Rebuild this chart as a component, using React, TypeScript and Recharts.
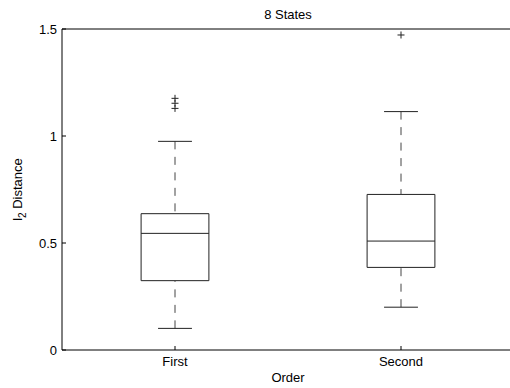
import React from 'react';
import { ScatterChart, Scatter, XAxis, YAxis, ReferenceArea, ReferenceLine, Label } from 'recharts';

// boxplot summary per group
const categories = ['First', 'Second'];
const positions = [1, 2];
const lowerWhisker = [0.101, 0.2];
const q1 = [0.324, 0.386];
const median = [0.545, 0.509];
const q3 = [0.637, 0.727];
const upperWhisker = [0.975, 1.114];

const outlierGroup = [1, 1, 1, 2];
const outlierValues = [1.129, 1.153, 1.176, 1.472];

const yTicks = [0, 0.5, 1, 1.5];

const outliers = outlierGroup.map((g, i) => ({ x: g, y: outlierValues[i] }));

const FONT = '"Liberation Sans", Arial, Helvetica, sans-serif';
const INK = '#222';
const BOX_HALF = 0.15;
const CAP_HALF = 0.075;

const PlusShape = (props: any) => {
  const { cx, cy } = props;
  if (cx == null || cy == null) return <g />;
  return (
    <path
      d={`M${cx - 3.5},${cy}h7M${cx},${cy - 3.5}v7`}
      stroke={INK}
      strokeWidth={1}
      fill="none"
    />
  );
};

const TitleLabel = (props: any) => {
  const vb = props.viewBox || {};
  return (
    <text x={vb.x + vb.width / 2} y={19} textAnchor="middle" fontSize={13} fill="#000" fontFamily={FONT}>
      8 States
    </text>
  );
};

const XLabel = (props: any) => {
  const vb = props.viewBox || {};
  return (
    <text x={vb.x + vb.width / 2} y={382} textAnchor="middle" fontSize={13} fill="#000" fontFamily={FONT}>
      Order
    </text>
  );
};

const YLabel = (props: any) => {
  const vb = props.viewBox || {};
  const cy = vb.y + vb.height / 2;
  const cx = 22;
  return (
    <text
      x={cx}
      y={cy}
      transform={`rotate(-90, ${cx}, ${cy})`}
      textAnchor="middle"
      fontSize={13}
      fill="#000"
      fontFamily={FONT}
    >
      l<tspan fontSize={10} dy={4}>2</tspan>
      <tspan dy={-4}> Distance</tspan>
    </text>
  );
};

const axisLine = { stroke: '#000', strokeWidth: 1 };
const tickStyle = { fill: '#000', fontSize: 13, fontFamily: FONT };

export default function App() {
  return (
    <div
      style={{
        position: 'absolute',
        left: 0,
        top: 0,
        width: 510,
        height: 388,
        overflow: 'hidden',
        background: '#fff',
      }}
    >
      {/* plot box runs to x=514, just past the window edge, like the original */}
      <ScatterChart width={524} height={388} margin={{ top: 0, right: 0, bottom: 0, left: 0 }}>
        <XAxis
          xAxisId="top"
          orientation="top"
          type="number"
          domain={[0.5, 2.5]}
          ticks={positions}
          height={29}
          tick={false}
          tickSize={-4}
          axisLine={axisLine}
          tickLine={axisLine}
        >
          <Label content={<TitleLabel />} />
        </XAxis>
        <XAxis
          dataKey="x"
          type="number"
          domain={[0.5, 2.5]}
          ticks={positions}
          height={38}
          tickSize={-4}
          tickMargin={11}
          tick={tickStyle}
          tickFormatter={(v: number) => categories[positions.indexOf(v)] ?? ''}
          axisLine={axisLine}
          tickLine={axisLine}
        >
          <Label content={<XLabel />} />
        </XAxis>
        <YAxis
          dataKey="y"
          type="number"
          domain={[0, 1.5]}
          ticks={yTicks}
          width={62}
          tickSize={-4}
          tickMargin={9}
          tick={tickStyle}
          axisLine={axisLine}
          tickLine={axisLine}
        >
          <Label content={<YLabel />} />
        </YAxis>
        <YAxis
          yAxisId="right"
          orientation="right"
          type="number"
          domain={[0, 1.5]}
          ticks={[0.5, 1]}
          width={10}
          tick={false}
          tickSize={-5}
          axisLine={false}
          tickLine={{ stroke: '#999', strokeWidth: 1 }}
        />

        {positions.map((p, i) => (
          <ReferenceArea
            key={`box-${i}`}
            x1={p - BOX_HALF}
            x2={p + BOX_HALF}
            y1={q1[i]}
            y2={q3[i]}
            fill="#fff"
            fillOpacity={1}
            stroke={INK}
            strokeWidth={1}
          />
        ))}
        {positions.map((p, i) => (
          <ReferenceLine
            key={`med-${i}`}
            segment={[{ x: p - BOX_HALF, y: median[i] }, { x: p + BOX_HALF, y: median[i] }]}
            stroke={INK}
            strokeWidth={1}
          />
        ))}
        {positions.map((p, i) => (
          <ReferenceLine
            key={`uw-${i}`}
            segment={[{ x: p, y: upperWhisker[i] }, { x: p, y: q3[i] }]}
            stroke="#444"
            strokeWidth={1}
            strokeDasharray="8 7.5"
          />
        ))}
        {positions.map((p, i) => (
          <ReferenceLine
            key={`lw-${i}`}
            segment={[{ x: p, y: lowerWhisker[i] }, { x: p, y: q1[i] }]}
            stroke="#444"
            strokeWidth={1}
            strokeDasharray="8 7.5"
          />
        ))}
        {positions.map((p, i) => (
          <ReferenceLine
            key={`ucap-${i}`}
            segment={[{ x: p - CAP_HALF, y: upperWhisker[i] }, { x: p + CAP_HALF, y: upperWhisker[i] }]}
            stroke={INK}
            strokeWidth={1}
          />
        ))}
        {positions.map((p, i) => (
          <ReferenceLine
            key={`lcap-${i}`}
            segment={[{ x: p - CAP_HALF, y: lowerWhisker[i] }, { x: p + CAP_HALF, y: lowerWhisker[i] }]}
            stroke={INK}
            strokeWidth={1}
          />
        ))}

        <Scatter data={outliers} shape={<PlusShape />} isAnimationActive={false} />
      </ScatterChart>
    </div>
  );
}
